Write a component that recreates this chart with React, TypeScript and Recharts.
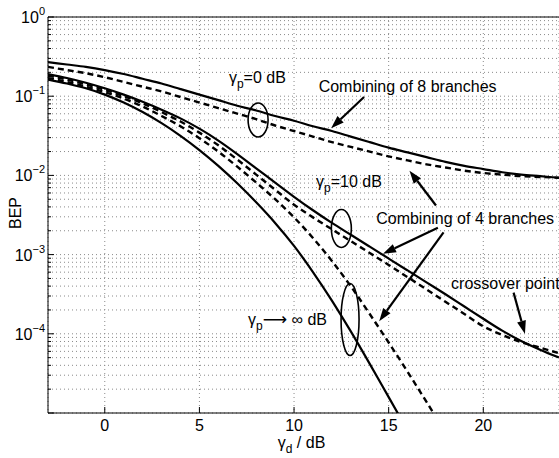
import React from "react";
import {
  LineChart,
  Line,
  XAxis,
  YAxis,
  CartesianGrid,
  ReferenceLine,
  ReferenceDot,
} from "recharts";

// gamma_d in dB, one entry per reading
const snrDb = [-3, -2, -1, 0, 1, 2, 3, 4, 5, 6, 7, 8, 9, 10, 11, 12, 13, 14, 15, 16, 17, 18, 19, 20, 21, 22, 23, 24];

// log10(BEP), aligned with snrDb
const gp0Comb8 = [-0.57, -0.6, -0.63, -0.67, -0.72, -0.78, -0.84, -0.91, -0.98, -1.05, -1.12, -1.18, -1.25, -1.31, -1.38, -1.44, -1.51, -1.58, -1.65, -1.71, -1.77, -1.83, -1.88, -1.92, -1.96, -1.99, -2.01, -2.03];
const gp0Comb4 = [-0.63, -0.67, -0.71, -0.76, -0.82, -0.88, -0.94, -1.01, -1.08, -1.15, -1.22, -1.29, -1.37, -1.44, -1.51, -1.58, -1.64, -1.7, -1.76, -1.81, -1.86, -1.9, -1.94, -1.97, -1.99, -2.01, -2.02, -2.03];
const gp10Comb8 = [-0.72, -0.77, -0.83, -0.9, -0.98, -1.07, -1.17, -1.28, -1.41, -1.56, -1.73, -1.91, -2.09, -2.27, -2.44, -2.6, -2.75, -2.9, -3.05, -3.2, -3.35, -3.5, -3.655, -3.81, -3.96, -4.09, -4.2, -4.3];
const gp10Comb4 = [-0.74, -0.79, -0.85, -0.92, -1.0, -1.09, -1.2, -1.32, -1.46, -1.62, -1.8, -1.99, -2.18, -2.37, -2.53, -2.68, -2.83, -2.98, -3.13, -3.285, -3.44, -3.595, -3.75, -3.905, -4.015, -4.105, -4.175, -4.245];
const gpInfComb8 = [-0.79, -0.84, -0.9, -0.98, -1.08, -1.2, -1.34, -1.5, -1.68, -1.88, -2.1, -2.34, -2.6, -2.89, -3.22, -3.58, -3.97, -4.38, -4.8, -5.22];
const gpInfComb4 = [-0.77, -0.82, -0.88, -0.95, -1.03, -1.13, -1.25, -1.38, -1.53, -1.7, -1.89, -2.09, -2.3, -2.53, -2.79, -3.08, -3.4, -3.75, -4.11, -4.48, -4.86, -5.24];

const xTicks = [0, 5, 10, 15, 20];
const yMajor = [1, 1e-1, 1e-2, 1e-3, 1e-4];
const yDecades = [1e-5, 1e-4, 1e-3, 1e-2, 1e-1];
const yMantissas = [2, 3, 4, 5, 6, 7, 8, 9];

const yTicks = [
  ...yMajor,
  1e-5,
  ...yDecades.flatMap((d) => yMantissas.map((m) => m * d)),
];

const FONT = '"Liberation Sans", Arial, Helvetica, sans-serif';

function toSeries(exps: number[]) {
  return exps.map((e, i) => ({ x: snrDb[i], bep: Math.pow(10, e) }));
}

const series = [
  { key: "gp0c8", data: toSeries(gp0Comb8), dashed: false },
  { key: "gp0c4", data: toSeries(gp0Comb4), dashed: true },
  { key: "gp10c8", data: toSeries(gp10Comb8), dashed: false },
  { key: "gp10c4", data: toSeries(gp10Comb4), dashed: true },
  { key: "gpinfc8", data: toSeries(gpInfComb8), dashed: false },
  { key: "gpinfc4", data: toSeries(gpInfComb4), dashed: true },
];

const p10 = (e: number) => Math.pow(10, e);

// annotations, in (dB, log10 BEP)
const arrows = [
  { from: [13.7, -1.01], to: [11.96, -1.405] },
  { from: [17.5, -2.38], to: [16.1, -1.94] },
  { from: [17.6, -2.66], to: [14.7, -2.99] },
  { from: [17.9, -2.72], to: [14.5, -3.84] },
  { from: [21.6, -3.48], to: [22.2, -4.0] },
];

const ellipses = [
  { at: [8.1, -1.3], rx: 10, ry: 17 },
  { at: [12.5, -2.67], rx: 10, ry: 19 },
  { at: [12.96, -3.82], rx: 9, ry: 36 },
];

const gammaNotes = [
  { at: [6.56, -0.835], arrow: false, tail: "=0 dB" },
  { at: [11.16, -2.15], arrow: false, tail: "=10 dB" },
  { at: [7.57, -3.89], arrow: true, tail: " \u221e dB" },
];

const plainNotes = [
  { at: [11.3, -0.95], text: "Combining of 8 branches" },
  { at: [14.34, -2.61], text: "Combining of 4 branches" },
  { at: [18.3, -3.44], text: "crossover point" },
];

function ArrowShape(props: any) {
  const { x1, y1, x2, y2 } = props;
  if (x1 == null) return null;
  const ang = Math.atan2(y2 - y1, x2 - x1);
  const len = 13;
  const half = 4.5;
  const bx = x2 - len * Math.cos(ang);
  const by = y2 - len * Math.sin(ang);
  const px = -Math.sin(ang) * half;
  const py = Math.cos(ang) * half;
  return (
    <g>
      <line x1={x1} y1={y1} x2={bx} y2={by} stroke="#000" strokeWidth={2.2} />
      <polygon
        points={`${x2},${y2} ${bx + px},${by + py} ${bx - px},${by - py}`}
        fill="#000"
      />
    </g>
  );
}

function YTick(props: any) {
  const { x, y, payload } = props;
  const v = payload.value;
  const major = yMajor.includes(v) || v === 1e-5;
  const labeled = yMajor.includes(v);
  const exp = Math.round(Math.log10(v));
  return (
    <g>
      <line x1={x} x2={x + (major ? 6 : 3)} y1={y} y2={y} stroke="#000" strokeWidth={1} />
      {labeled && (
        <text x={x - 3} y={y + 6} textAnchor="end" fontSize={16} fill="#000" fontFamily={FONT}>
          10
          <tspan dy={-8} fontSize={11}>
            {exp === 0 ? "0" : `\u2212${-exp}`}
          </tspan>
        </text>
      )}
    </g>
  );
}

function XTick(props: any) {
  const { x, y, payload } = props;
  return (
    <g>
      <line x1={x} x2={x} y1={y} y2={y - 6} stroke="#000" strokeWidth={1} />
      <text x={x} y={y + 18} textAnchor="middle" fontSize={16} fill="#000" fontFamily={FONT}>
        {payload.value}
      </text>
    </g>
  );
}

export default function App() {
  return (
    <div
      style={{
        position: "absolute",
        left: 0,
        top: 0,
        width: 559,
        height: 458,
        overflow: "hidden",
        background: "#fff",
      }}
    >
      <LineChart
        width={559}
        height={458}
        margin={{ top: 17, right: 0, left: 0, bottom: 0 }}
        style={{ fontFamily: FONT }}
      >
        <CartesianGrid stroke="#8a8a8a" strokeDasharray="1 3" />
        <XAxis
          dataKey="x"
          type="number"
          domain={[-3, 24]}
          ticks={xTicks}
          allowDataOverflow
          height={45}
          tickSize={0}
          tickMargin={0}
          tickLine={false}
          axisLine={{ stroke: "#000" }}
          tick={<XTick />}
          label={{
            content: (p: any) => {
              const vb = p.viewBox || { x: 48, width: 511, y: 413 };
              const cx = vb.x + vb.width / 2 - 2;
              return (
                <text x={cx} y={vb.y + 35} textAnchor="middle" fontSize={16} fill="#000" fontFamily={FONT}>
                  γ
                  <tspan dy={5} fontSize={12}>d</tspan>
                  <tspan dy={-5}> / dB</tspan>
                </text>
              );
            },
          }}
        />
        <YAxis
          scale="log"
          type="number"
          domain={[1e-5, 1]}
          ticks={yTicks}
          allowDataOverflow
          width={48}
          tickSize={0}
          tickMargin={0}
          tickLine={false}
          interval={0}
          axisLine={{ stroke: "#000" }}
          tick={<YTick />}
          label={{
            content: (p: any) => {
              const vb = p.viewBox || { x: 0, y: 17, width: 48, height: 396 };
              const cy = vb.y + vb.height / 2 - 2;
              return (
                <text
                  x={21}
                  y={cy}
                  transform={`rotate(-90, 21, ${cy})`}
                  textAnchor="middle"
                  fontSize={16}
                  fill="#000"
                  fontFamily={FONT}
                >
                  BEP
                </text>
              );
            },
          }}
        />
        <ReferenceLine y={1} stroke="#000" strokeWidth={1} />
        {series.map((s) => (
          <Line
            key={s.key}
            data={s.data}
            dataKey="bep"
            type="monotone"
            stroke="#000"
            strokeWidth={s.dashed ? 2.4 : 2.2}
            strokeDasharray={s.dashed ? "6 4" : undefined}
            dot={false}
            activeDot={false}
            isAnimationActive={false}
          />
        ))}
        {ellipses.map((el, i) => (
          <ReferenceDot
            key={`el${i}`}
            x={el.at[0]}
            y={p10(el.at[1])}
            shape={(p: any) => (
              <ellipse cx={p.cx} cy={p.cy} rx={el.rx} ry={el.ry} fill="none" stroke="#000" strokeWidth={1.6} />
            )}
          />
        ))}
        {arrows.map((a, i) => (
          <ReferenceLine
            key={`ar${i}`}
            segment={[
              { x: a.from[0], y: p10(a.from[1]) },
              { x: a.to[0], y: p10(a.to[1]) },
            ]}
            shape={<ArrowShape />}
          />
        ))}
        {gammaNotes.map((n, i) => (
          <ReferenceDot
            key={`gn${i}`}
            x={n.at[0]}
            y={p10(n.at[1])}
            shape={(p: any) => (
              <text x={p.cx} y={p.cy} fontSize={16} fill="#000" fontFamily={FONT}>
                γ
                <tspan dy={5} fontSize={12}>p</tspan>
                {n.arrow ? (
                  <>
                    <tspan dy={-5} fontFamily='"DejaVu Sans", sans-serif' fontSize={17}>
                      {"\u27f6"}
                    </tspan>
                    <tspan>{n.tail}</tspan>
                  </>
                ) : (
                  <tspan dy={-5}>{n.tail}</tspan>
                )}
              </text>
            )}
          />
        ))}
        {plainNotes.map((n, i) => (
          <ReferenceDot
            key={`pn${i}`}
            x={n.at[0]}
            y={p10(n.at[1])}
            shape={(p: any) => (
              <text x={p.cx} y={p.cy} fontSize={16} fill="#000" fontFamily={FONT}>
                {n.text}
              </text>
            )}
          />
        ))}
      </LineChart>
    </div>
  );
}
